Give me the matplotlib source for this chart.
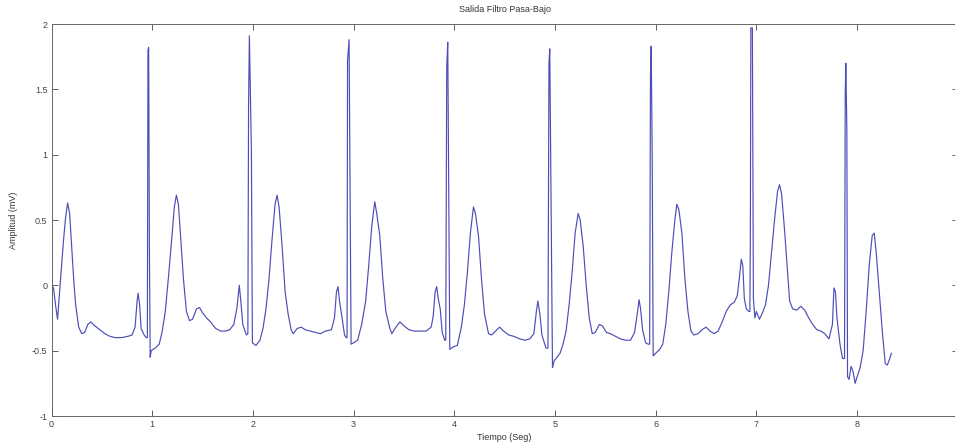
import matplotlib
matplotlib.use("Agg")
import matplotlib.pyplot as plt

plt.rcParams['font.family'] = ['Liberation Sans', 'DejaVu Sans']

titulo = "Salida Filtro Pasa-Bajo"
etiqueta_x = "Tiempo (Seg)"
etiqueta_y = "Amplitud (mV)"
x_ticks = [0, 1, 2, 3, 4, 5, 6, 7, 8, 9]
y_ticks = [-1, -0.5, 0, 0.5, 1, 1.5, 2]
y_tick_labels = ["-1", "-0.5", "0", "0.5", "1", "1.5", "2"]

tiempo = [
    0.00, 0.02, 0.04, 0.06, 0.08, 0.10, 0.12, 0.14, 0.16, 0.18, 0.20, 0.22, 0.24, 0.27, 0.30,
    0.33, 0.36, 0.39, 0.43, 0.48, 0.53, 0.58, 0.63, 0.70, 0.76, 0.80, 0.83, 0.85, 0.86, 0.875,
    0.89, 0.92, 0.94,
    0.952, 0.958, 0.965, 0.972, 0.980,
    0.99, 1.03, 1.07, 1.10, 1.13, 1.16, 1.19, 1.22, 1.24, 1.26, 1.28, 1.31, 1.34, 1.37, 1.40,
    1.44, 1.47, 1.50, 1.54, 1.58, 1.63, 1.68, 1.73, 1.77, 1.81, 1.84, 1.865, 1.88, 1.90, 1.935,
    1.950, 1.957, 1.965, 1.985, 1.995,
    2.03, 2.07, 2.10, 2.13, 2.16, 2.19, 2.22, 2.24, 2.26, 2.29, 2.32, 2.35, 2.38, 2.40, 2.44,
    2.48, 2.52, 2.57, 2.62, 2.67, 2.72, 2.78, 2.81, 2.83, 2.845, 2.86, 2.88, 2.91, 2.925,
    2.935, 2.940, 2.955, 2.965, 2.975,
    3.00, 3.04, 3.08, 3.12, 3.15, 3.18, 3.21, 3.23, 3.26, 3.29, 3.32, 3.36, 3.38, 3.42, 3.46,
    3.50, 3.55, 3.60, 3.66, 3.72, 3.77, 3.79, 3.81, 3.825, 3.84, 3.86, 3.88, 3.905,
    3.915, 3.925, 3.935, 3.955,
    3.99, 4.03, 4.07, 4.10, 4.13, 4.16, 4.19, 4.21, 4.24, 4.27, 4.30, 4.34, 4.37, 4.41, 4.45,
    4.49, 4.54, 4.59, 4.65, 4.70, 4.75, 4.79, 4.815, 4.83, 4.85, 4.87, 4.91,
    4.930, 4.940, 4.948, 4.960, 4.975,
    4.99, 5.02, 5.05, 5.08, 5.11, 5.14, 5.17, 5.20, 5.23, 5.25, 5.28, 5.31, 5.34, 5.37, 5.40,
    5.44, 5.47, 5.51, 5.55, 5.60, 5.65, 5.70, 5.75, 5.79, 5.82, 5.835, 5.85, 5.87, 5.90, 5.925,
    5.940, 5.948, 5.955, 5.965, 5.975,
    6.00, 6.04, 6.07, 6.10, 6.13, 6.16, 6.19, 6.21, 6.23, 6.26, 6.29, 6.32, 6.35, 6.38, 6.42,
    6.46, 6.50, 6.54, 6.58, 6.62, 6.66, 6.70, 6.74, 6.78, 6.81, 6.83, 6.85, 6.865, 6.88, 6.90,
    6.925,
    6.935, 6.940, 6.945, 6.960, 6.970, 6.985,
    7.00, 7.03, 7.06, 7.09, 7.12, 7.15, 7.18, 7.21, 7.23, 7.25, 7.28, 7.31, 7.33, 7.36, 7.40,
    7.44, 7.48, 7.52, 7.56, 7.60, 7.64, 7.68, 7.72, 7.755, 7.77, 7.785, 7.80, 7.83, 7.855,
    7.875, 7.882, 7.888, 7.898, 7.905,
    7.92, 7.94, 7.96, 7.98, 8.00, 8.03, 8.06, 8.09, 8.12, 8.15, 8.17, 8.19, 8.22, 8.25, 8.28,
    8.30, 8.32, 8.34,
]

amplitud = [
    0.00, -0.02, -0.15, -0.26, -0.05, 0.15, 0.35, 0.52, 0.63, 0.55, 0.30, 0.05, -0.15, -0.32, -0.37,
    -0.36, -0.30, -0.28, -0.31, -0.34, -0.37, -0.39, -0.40, -0.40, -0.39, -0.38, -0.32, -0.12, -0.06, -0.15,
    -0.33, -0.38, -0.40,
    -0.40, 1.80, 1.82, 0.30, -0.55,
    -0.50, -0.48, -0.45, -0.35, -0.20, 0.05, 0.32, 0.60, 0.69, 0.62, 0.40, 0.05, -0.20, -0.27, -0.26,
    -0.18, -0.17, -0.21, -0.25, -0.28, -0.33, -0.35, -0.35, -0.34, -0.30, -0.18, 0.00, -0.12, -0.30, -0.38,
    -0.37, 1.37, 1.91, 1.03, -0.44,
    -0.46, -0.42, -0.33, -0.18, 0.05, 0.35, 0.62, 0.69, 0.60, 0.30, -0.05, -0.22, -0.34, -0.37, -0.33,
    -0.32, -0.34, -0.35, -0.36, -0.37, -0.35, -0.34, -0.25, -0.05, -0.01, -0.12, -0.22, -0.38, -0.40,
    -0.40, 1.72, 1.88, 0.72, -0.45,
    -0.44, -0.42, -0.30, -0.12, 0.15, 0.45, 0.64, 0.55, 0.38, 0.05, -0.20, -0.33, -0.37, -0.32, -0.28,
    -0.31, -0.34, -0.35, -0.35, -0.35, -0.32, -0.24, -0.05, -0.01, -0.10, -0.18, -0.36, -0.42,
    -0.42, 1.67, 1.86, -0.49,
    -0.47, -0.46, -0.32, -0.15, 0.10, 0.40, 0.60, 0.55, 0.38, 0.05, -0.22, -0.37, -0.38, -0.35, -0.32,
    -0.35, -0.38, -0.39, -0.41, -0.42, -0.41, -0.37, -0.20, -0.12, -0.22, -0.38, -0.48,
    -0.48, 1.70, 1.81, 0.68, -0.63,
    -0.58, -0.55, -0.52, -0.45, -0.35, -0.15, 0.10, 0.40, 0.55, 0.50, 0.30, 0.00, -0.25, -0.37, -0.36,
    -0.30, -0.31, -0.36, -0.37, -0.39, -0.41, -0.42, -0.42, -0.36, -0.20, -0.11, -0.18, -0.34, -0.44, -0.45,
    -0.45, 1.60, 1.83, 1.01, -0.54,
    -0.52, -0.49, -0.45, -0.30, -0.05, 0.25, 0.50, 0.62, 0.58, 0.40, 0.05, -0.20, -0.35, -0.38, -0.37,
    -0.34, -0.32, -0.35, -0.37, -0.35, -0.28, -0.20, -0.15, -0.13, -0.08, 0.05, 0.20, 0.15, -0.10, -0.18,
    -0.20,
    -0.20, 0.40, 1.97, 1.97, -0.10, -0.25,
    -0.20, -0.26, -0.21, -0.15, 0.00, 0.25, 0.50, 0.72, 0.77, 0.70, 0.42, 0.10, -0.12, -0.18, -0.19,
    -0.16, -0.19, -0.25, -0.30, -0.34, -0.35, -0.37, -0.41, -0.30, -0.02, -0.05, -0.25, -0.45, -0.56,
    -0.56, 1.45, 1.70, 1.20, -0.70,
    -0.72, -0.62, -0.66, -0.75, -0.70, -0.63, -0.50, -0.20, 0.15, 0.38, 0.40, 0.25, -0.05, -0.35, -0.60,
    -0.61, -0.57, -0.52,
]

fig = plt.figure(figsize=(9.55, 4.44), dpi=100)
ax = fig.add_axes([51.5 / 955, 28 / 444, 906.3 / 955, 392 / 444])
ax.plot(tiempo, amplitud, color="#4d4db8", linewidth=0.85)

ax.set_xlim(0, 9)
ax.set_ylim(-1, 2)
ax.set_xticks(x_ticks)
ax.set_yticks(y_ticks)
ax.set_yticklabels(y_tick_labels)
ax.tick_params(direction="in", top=True, right=True, length=4, width=0.6,
               labelsize=6.5, colors="#444444", pad=3)
for s in ax.spines.values():
    s.set_color("#666666")
    s.set_linewidth(0.7)

ax.set_title(titulo, fontsize=6.5, color="#333333", pad=9)
ax.set_xlabel(etiqueta_x, fontsize=6.5, color="#333333", labelpad=3)
ax.set_ylabel(etiqueta_y, fontsize=6.5, color="#333333", labelpad=10)

fig.savefig("out.png", dpi=100, facecolor="white")
